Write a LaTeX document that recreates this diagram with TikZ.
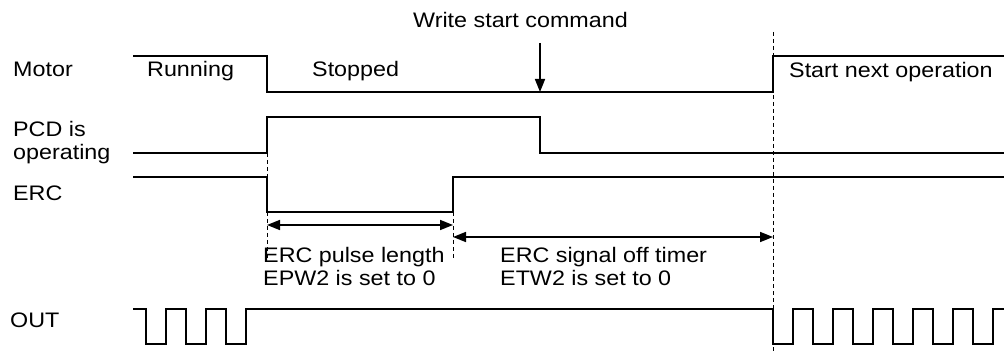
\documentclass[tikz,border=0pt]{standalone}
\usepackage{fontspec}
\setmainfont{Liberation Sans}[FakeStretch=1.11]
\usetikzlibrary{arrows.meta,positioning}

\begin{document}
\begin{tikzpicture}[x=1pt, y=-1pt,
	signal/.style={line width=1.7pt},
	guide/.style={line width=0.9pt, dash pattern=on 4pt off 3pt},
	span/.style={line width=1.7pt, {Triangle[length=13pt,width=10pt]}-{Triangle[length=13pt,width=10pt]}},
	txt/.style={anchor=base west, inner sep=0pt, align=left, font=\fontsize{21}{23}\selectfont}]

	\useasboundingbox (0,0) rectangle (1004,358);

	% Row names
	\node[txt] (motor) at (13,77) {Motor};
	\node[txt] (pcd) at (13,160) {PCD is\\operating};
	\node[txt] (erc) at (13,201) {ERC};
	\node[txt] (out) at (10,327) {OUT};

	% Motor states
	\node[txt] (running) at (147,77) {Running};
	\node[txt] (stopped) at (312,77) {Stopped};
	\node[txt] (next) at (789,78) {Start next operation};

	% Waveforms
	\draw[signal] (133,56) -- (267,56) -- (267,92) -- (773,92) -- (773,56) -- (1004,56);
	\draw[signal] (133,153) -- (267,153) -- (267,117) -- (540,117) -- (540,153) -- (1004,153);
	\draw[signal] (133,177) -- (267,177) -- (267,212) -- (453,212) -- (453,177) -- (1004,177);
	\draw[signal] (133,309)
		\foreach \x in {146,186,226} {-- (\x,309) -- (\x,344) -- ++(20,0) -- ++(0,-35)}
		-- (773,309)
		\foreach \x in {773,813,...,973} {-- (\x,309) -- (\x,344) -- ++(20,0) -- ++(0,-35)}
		-- (1004,309);

	% Time guides
	\draw[guide] (267,153) -- (267,177);
	\draw[guide] (267,212) -- (267,258);
	\draw[guide] (453,212) -- (453,258);
	\draw[guide] (773,32) -- (773,353);

	% Write command
	\node[txt] (cmd) at (413,28) {Write start command};
	\coordinate (cmdtail) at (540,43);
	\coordinate (cmdhit) at (540,92);
	\draw[signal, -{Triangle[length=13pt,width=10pt]}] (cmdtail) -- (cmdhit);

	% Timers
	\coordinate (p1) at (267,225);
	\coordinate (p2) at (453,225);
	\coordinate (s1) at (453,237);
	\coordinate (s2) at (773,237);
	\draw[span] (p1) -- (p2);
	\draw[span] (s1) -- (s2);
	\node[txt] (pulse) at (263,285) {ERC pulse length\\EPW2 is set to 0};
	\node[txt] (offtimer) at (500,285) {ERC signal off timer\\ETW2 is set to 0};
\end{tikzpicture}
\end{document}
